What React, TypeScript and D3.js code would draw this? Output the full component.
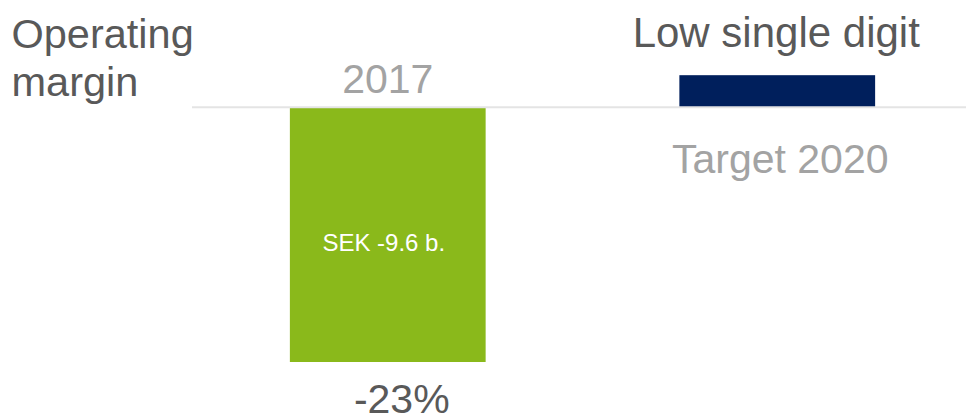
import React from "react";
import * as d3 from "d3";

const categories = ["2017", "Target 2020"];
const values = [-23, 2.9];
const valueLabels = ["-23%", "Low single digit"];
const insideLabels = ["SEK -9.6 b.", ""];
const barColors = ["#8ab91b", "#001f5c"];
const titleLines = ["Operating", "margin"];

const W = 966;
const H = 417;
const FONT = "'Liberation Sans', Arial, Helvetica, sans-serif";

export default function App() {
  const x = d3
    .scaleBand<string>()
    .domain(categories)
    .range([192.5, 972.5])
    .paddingInner(0.4974)
    .paddingOuter(0.25);
  const y = d3.scaleLinear().domain([-23, 0]).range([362, 107.3]);
  const bw = x.bandwidth();

  return (
    <svg
      width={W}
      height={H}
      viewBox={`0 0 ${W} ${H}`}
      style={{ position: "absolute", left: 0, top: 0, display: "block", background: "#fff" }}
      fontFamily={FONT}
    >
      {/* title */}
      {titleLines.map((t, i) => (
        <text key={t} x={11.5} y={48 + i * 47.5} fontSize={41.5} fill="#595959">
          {t}
        </text>
      ))}

      {/* bars */}
      {categories.map((c, i) => {
        const v = values[i];
        const y0 = y(0);
        const y1 = y(v);
        return (
          <rect
            key={c}
            x={x(c)}
            y={Math.min(y0, y1)}
            width={bw}
            height={Math.abs(y1 - y0)}
            fill={barColors[i]}
          />
        );
      })}

      {/* baseline */}
      <line x1={192} x2={W} y1={y(0)} y2={y(0)} stroke="#e4e4e4" strokeWidth={2} />

      {/* category labels */}
      {categories.map((c, i) => {
        const cx = (x(c) as number) + bw / 2;
        const neg = values[i] < 0;
        return (
          <text
            key={c}
            x={neg ? cx : cx + 3}
            y={neg ? y(0) - 14 : y(0) + 66}
            textAnchor="middle"
            fontSize={41}
            fill="#a3a3a3"
          >
            {c}
          </text>
        );
      })}

      {/* value labels */}
      {categories.map((c, i) => {
        const cx = (x(c) as number) + bw / 2;
        const neg = values[i] < 0;
        return (
          <text
            key={c + "v"}
            x={neg ? cx + 14 : cx - 1}
            y={neg ? y(values[i]) + 51 : y(values[i]) - 28.5}
            textAnchor="middle"
            fontSize={neg ? 41 : 42}
            fill="#595959"
          >
            {valueLabels[i]}
          </text>
        );
      })}

      {/* inside labels */}
      {categories.map((c, i) =>
        insideLabels[i] ? (
          <text
            key={c + "in"}
            x={(x(c) as number) + bw / 2 - 4}
            y={251}
            textAnchor="middle"
            fontSize={24}
            fill="#ffffff"
          >
            {insideLabels[i]}
          </text>
        ) : null
      )}
    </svg>
  );
}
